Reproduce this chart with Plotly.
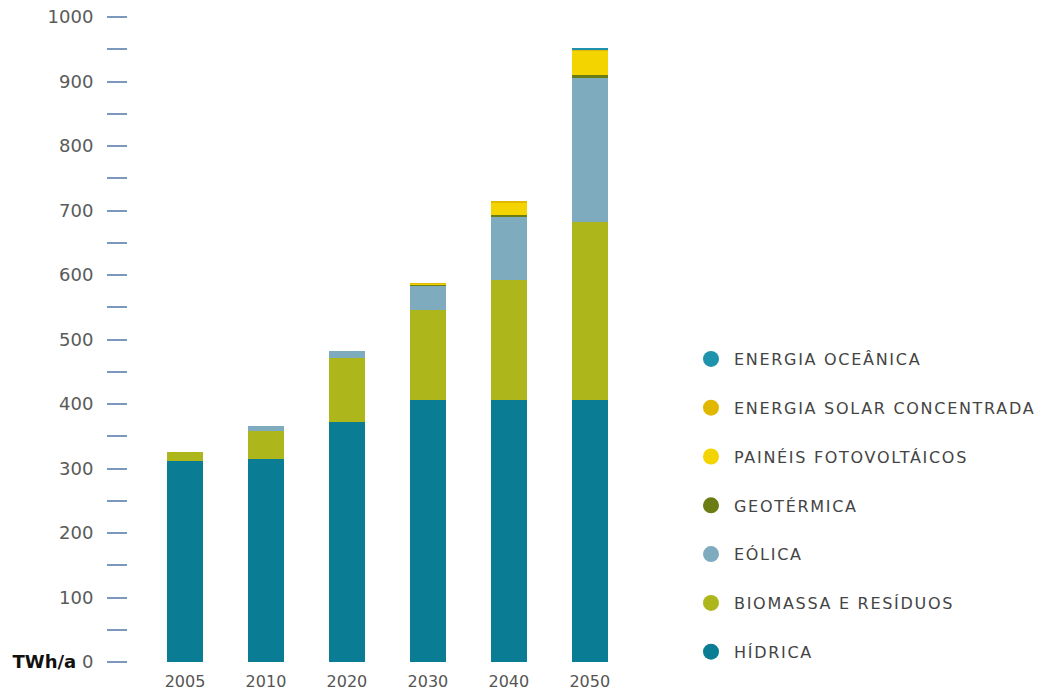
import plotly.graph_objects as go

years = ["2005", "2010", "2020", "2030", "2040", "2050"]

hidrica = [312, 315, 372, 406, 406, 406]
biomassa = [14, 43, 99, 140, 187, 276]
eolica = [0, 8, 11, 38, 97, 223]
geotermica = [0, 0, 0, 0.5, 3, 5]
fotovoltaicos = [0, 0, 0, 2, 20, 38]
solar_conc = [0, 0, 0, 1, 1, 1.5]
oceanica = [0, 0, 0, 0, 0, 1]

series = [
    ("HÍDRICA", hidrica, "#0a7c93"),
    ("BIOMASSA E RESÍDUOS", biomassa, "#adb71c"),
    ("EÓLICA", eolica, "#7eabbd"),
    ("GEOTÉRMICA", geotermica, "#6b7c12"),
    ("PAINÉIS FOTOVOLTÁICOS", fotovoltaicos, "#f3d300"),
    ("ENERGIA SOLAR CONCENTRADA", solar_conc, "#e1b800"),
    ("ENERGIA OCEÂNICA", oceanica, "#1f93ab"),
]

y_tick_vals = [0, 100, 200, 300, 400, 500, 600, 700, 800, 900, 1000]
y_tick_text = ['<span style="color:#111;font-weight:bold">TWh/a</span> 0',
               "100", "200", "300", "400", "500", "600", "700", "800", "900", "1000"]

fig = go.Figure()
for name, vals, col in series:
    fig.add_trace(go.Bar(x=years, y=vals, name=name, marker_color=col,
                         marker_line_width=0, showlegend=False, width=0.44))

# legend entries with circular symbols (top-to-bottom order as in the reference)
for name, vals, col in reversed(series):
    fig.add_trace(go.Scatter(x=[None], y=[None], mode="markers",
                             name='<span style="letter-spacing:1.7px">' + name + '</span>',
                             marker=dict(symbol="circle", size=20, color=col),
                             legendgroup=name, showlegend=True))

fig.update_layout(
    width=1044, height=690,
    margin=dict(l=128, r=404, t=17, b=28, autoexpand=False),
    plot_bgcolor="white", paper_bgcolor="white",
    barmode="stack",
    font=dict(family="DejaVu Sans", size=16, color="#555555"),
    showlegend=True,
    legend=dict(
        xref="container", yref="container",
        x=0.659, y=1 - 342 / 690, xanchor="left", yanchor="top",
        font=dict(size=16, color="#444444", family="DejaVu Sans"),
        tracegroupgap=25, itemsizing="trace", itemwidth=36,
        bgcolor="rgba(0,0,0,0)",
    ),
    xaxis=dict(type="category", range=[-0.704, 5.62], showline=False,
               showgrid=False, ticks="", ticklabelstandoff=8, automargin=False,
               tickfont=dict(size=16, color="#555555")),
    yaxis=dict(range=[0, 1000], showgrid=False, showline=False, zeroline=False,
               tickvals=y_tick_vals, ticktext=y_tick_text, automargin=False,
               ticks="outside", ticklen=20, tickwidth=1.5, tickcolor="#7d98bf",
               ticklabelstandoff=10,
               minor=dict(dtick=50, tick0=0, ticks="outside", ticklen=20,
                          tickwidth=1.5, tickcolor="#7d98bf"),
               tickfont=dict(size=18, color="#5a5a5a")),
)

fig.write_html("out.html", config={"displayModeBar": False},
               post_script="document.body.style.margin='0';")
